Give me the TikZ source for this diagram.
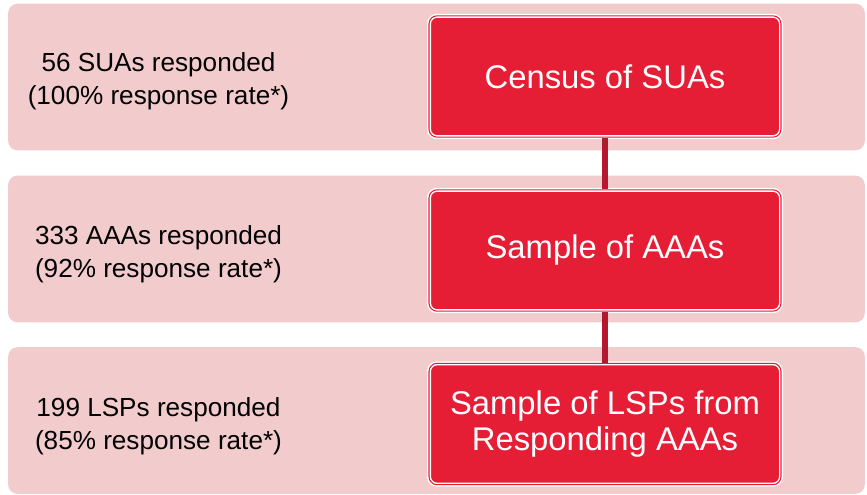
\documentclass[tikz,border=0pt]{standalone}
\usepackage{fontspec}
\setmainfont{Liberation Sans}

\definecolor{bandpink}{HTML}{F2CBCD}
\definecolor{boxred}{HTML}{E51E36}
\definecolor{linkred}{HTML}{B5172E}

\begin{document}
\begin{tikzpicture}[x=0.75pt, y=-0.75pt,
        band/.style={fill=bandpink, rounded corners=7pt, inner sep=0pt,
                minimum width=642.5pt, minimum height=110pt},
        note/.style={align=center, text=black, font=\fontsize{19.6}{24.8}\selectfont},
        stage/.style={fill=boxred, draw=white, double=boxred, double distance=0.8pt,
                line width=1.1pt, rounded corners=6pt, align=center, text=white,
                minimum width=264pt, minimum height=91pt,
                font=\fontsize{24.6}{26.4}\selectfont},
        link/.style={draw=linkred, line width=3.8pt}]
        \useasboundingbox (0,0) rectangle (867,495);
        % background bands with the response counts
        \foreach \i/\y/\ny/\txt in {1/77/81.5/{56 SUAs responded\\(100\% response rate*)},
                        2/249/254/{333 AAAs responded\\(92\% response rate*)},
                        3/420.5/426.5/{199 LSPs responded\\(85\% response rate*)}} {
                \node[band] (band\i) at (436.5,\y) {};
                \node[note] (note\i) at (158.5,\ny) {\txt};
            }
        % the three survey stages
        \node[stage] (census) at (605,76.5) {Census of SUAs};
        \node[stage] (aaa) at (605,250.5) {Sample of AAAs};
        \node[stage] (lsp) at (605,424) {Sample of LSPs from\\Responding AAAs};
        \draw[link] (census) -- (aaa);
        \draw[link] (aaa) -- (lsp);
    \end{tikzpicture}
\end{document}
